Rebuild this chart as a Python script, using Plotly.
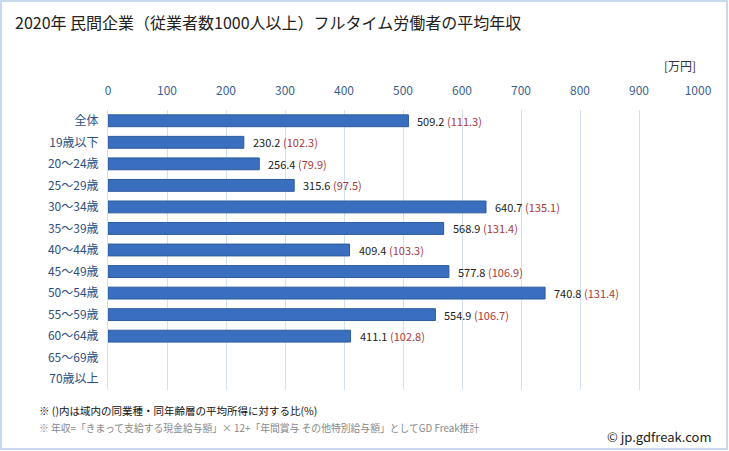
import plotly.graph_objects as go

categories = ["全体", "19歳以下", "20～24歳", "25～29歳", "30～34歳", "35～39歳", "40～44歳",
              "45～49歳", "50～54歳", "55～59歳", "60～64歳", "65～69歳", "70歳以上"]
values = [509.2, 230.2, 256.4, 315.6, 640.7, 568.9, 409.4, 577.8, 740.8, 554.9, 411.1, None, None]
ratios = [111.3, 102.3, 79.9, 97.5, 135.1, 131.4, 103.3, 106.9, 131.4, 106.7, 102.8, None, None]
tick_vals = [0, 100, 200, 300, 400, 500, 600, 700, 800, 900, 1000]

FONT = "Noto Sans CJK JP"
W, H = 729, 451
ML, MR, MT, MB = 108, 31, 110, 61
PW, PH = W - ML - MR, H - MT - MB


def px(x):
    return (x - ML) / PW


def py(y):
    return (H - MB - y) / PH


fig = go.Figure()
fig.add_trace(go.Bar(
    y=categories, x=values, orientation="h", width=0.55,
    marker=dict(color="#3a6fc0", line=dict(color="#2d5a9c", width=1)),
    hoverinfo="skip",
))

annotations = []
for c, v, r in zip(categories, values, ratios):
    if v is None:
        continue
    annotations.append(dict(
        x=v, y=c, xref="x", yref="y", xanchor="left", yanchor="middle",
        xshift=7, showarrow=False,
        text=f"{v:.1f} <span style='color:#a83a3a'>({r:.1f})</span>",
        font=dict(family=FONT, size=11, color="#222222"),
    ))

annotations += [
    dict(x=px(13), y=py(22), xref="paper", yref="paper", xanchor="left", yanchor="middle",
         showarrow=False, text="2020年 民間企業（従業者数1000人以上）フルタイム労働者の平均年収",
         font=dict(family=FONT, size=16, color="#222222")),
    dict(x=px(698), y=py(66), xref="paper", yref="paper", xanchor="right", yanchor="middle",
         showarrow=False, text="[万円]", font=dict(family=FONT, size=12, color="#333333")),
    dict(x=px(37), y=py(410), xref="paper", yref="paper", xanchor="left", yanchor="middle",
         showarrow=False, text="※ ()内は域内の同業種・同年齢層の平均所得に対する比(%)",
         font=dict(family=FONT, size=10.5, color="#111111")),
    dict(x=px(37), y=py(428), xref="paper", yref="paper", xanchor="left", yanchor="middle",
         showarrow=False, text="※ 年収=「きまって支給する現金給与額」× 12+「年間賞与 その他特別給与額」としてGD Freak推計",
         font=dict(family=FONT, size=9.8, color="#888888")),
    dict(x=px(714), y=py(436), xref="paper", yref="paper", xanchor="right", yanchor="middle",
         showarrow=False, text="© jp.gdfreak.com",
         font=dict(family=FONT, size=13, color="#222222")),
]

fig.update_layout(
    width=W, height=H,
    margin=dict(l=ML, r=MR, t=MT, b=MB, autoexpand=False),
    paper_bgcolor="white", plot_bgcolor="white",
    showlegend=False,
    annotations=annotations,
    xaxis=dict(side="top", range=[0, 1000], tickvals=tick_vals, showgrid=True,
               gridcolor="#d3e0ee", gridwidth=1, zeroline=False, showline=False,
               tickfont=dict(family=FONT, size=12, color="#3b5f8f"), ticks="", ticklabelstandoff=12,
               fixedrange=True),
    yaxis=dict(categoryorder="array", categoryarray=categories, autorange="reversed",
               tickfont=dict(family=FONT, size=12, color="#2f4f80"), ticks="",
               showline=True, linecolor="#d3e0ee", linewidth=1, ticklabelstandoff=6,
               fixedrange=True),
    shapes=[dict(type="rect", xref="paper", yref="paper", x0=px(1), x1=px(727),
                 y0=py(449), y1=py(1),
                 line=dict(color="#c7d9ee", width=2), fillcolor="rgba(0,0,0,0)", layer="below")],
)

fig.write_html("out.html", config={"displayModeBar": False},
               post_script="document.body.style.margin='0';document.body.style.overflow='hidden';")
